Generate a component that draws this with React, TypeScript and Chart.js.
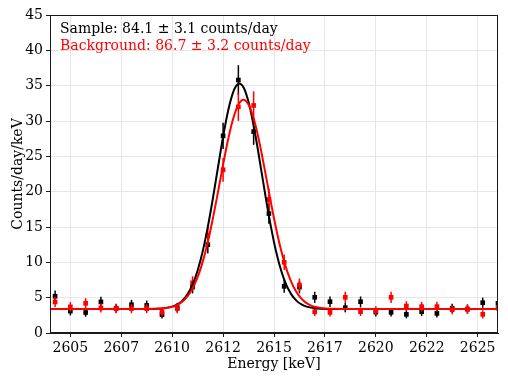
import React, { useEffect, useRef } from 'react';
import { Chart, registerables } from 'chart.js';

Chart.register(...registerables);

// ---- data ----
const binEnergies = [
  2604.25, 2605.0, 2605.75, 2606.5, 2607.25, 2608.0, 2608.75, 2609.5, 2610.25, 2611.0,
  2611.75, 2612.5, 2613.25, 2614.0, 2614.75, 2615.5, 2616.25, 2617.0, 2617.75, 2618.5,
  2619.25, 2620.0, 2620.75, 2621.5, 2622.25, 2623.0, 2623.75, 2624.5, 2625.25, 2626.0,
];
const sampleRates = [
  5.2, 3.1, 2.9, 4.4, 3.5, 4.0, 3.9, 2.6, 3.6, 6.5,
  12.5, 27.9, 35.8, 28.5, 16.9, 6.6, 6.5, 5.05, 4.43, 3.58,
  4.43, 2.95, 2.92, 2.64, 3.02, 2.78, 3.5, 3.4, 4.29, 4.2,
];
const sampleErrors = [
  0.8, 0.62, 0.6, 0.73, 0.65, 0.7, 0.69, 0.56, 0.66, 0.89,
  1.24, 1.85, 2.1, 1.87, 1.44, 0.9, 0.89, 0.79, 0.74, 0.66,
  0.74, 0.6, 0.6, 0.57, 0.61, 0.58, 0.65, 0.65, 0.72, 0.72,
];
const backgroundRates = [
  4.4, 3.7, 4.2, 3.55, 3.45, 3.45, 3.45, 2.95, 3.45, 7.1,
  13.8, 23.1, 32.0, 32.2, 18.9, 10.0, 6.8, 3.0, 2.92, 5.05,
  3.02, 3.15, 5.05, 3.82, 3.73, 3.73, 3.3, 3.35, 2.64, 3.5,
];
const backgroundErrors = [
  0.73, 0.67, 0.72, 0.66, 0.65, 0.65, 0.65, 0.6, 0.65, 0.93,
  1.3, 1.68, 1.98, 1.99, 1.52, 1.1, 0.91, 0.61, 0.6, 0.79,
  0.61, 0.62, 0.79, 0.68, 0.68, 0.68, 0.64, 0.64, 0.57, 0.65,
];

const sampleFitEnergies = [
  2604.0, 2609.0, 2609.5, 2610.0, 2610.25, 2610.5, 2610.75, 2611.0, 2611.25, 2611.5,
  2611.75, 2612.0, 2612.25, 2612.5, 2612.75, 2613.0, 2613.15, 2613.3, 2613.45, 2613.6,
  2613.85, 2614.1, 2614.35, 2614.6, 2614.85, 2615.1, 2615.35, 2615.6, 2615.85, 2616.1,
  2616.35, 2616.6, 2617.1, 2617.6, 2618.5, 2626.0,
];
const sampleFitRates = [
  3.4, 3.41, 3.47, 3.73, 4.04, 4.58, 5.47, 6.84, 8.84, 11.56,
  15.01, 19.07, 23.46, 27.77, 31.49, 34.11, 35.0, 35.3, 35.0, 34.11,
  31.49, 27.77, 23.46, 19.07, 15.01, 11.56, 8.84, 6.84, 5.47, 4.58,
  4.04, 3.73, 3.47, 3.41, 3.4, 3.4,
];
const backgroundFitEnergies = [
  2604.0, 2608.7, 2609.2, 2609.7, 2609.95, 2610.2, 2610.45, 2610.7, 2610.95, 2611.2,
  2611.45, 2611.7, 2611.95, 2612.2, 2612.45, 2612.7, 2612.95, 2613.2, 2613.35, 2613.5,
  2613.65, 2613.8, 2614.05, 2614.3, 2614.55, 2614.8, 2615.05, 2615.3, 2615.55, 2615.8,
  2616.05, 2616.3, 2616.55, 2616.8, 2617.05, 2617.3, 2617.8, 2618.3, 2626.0,
];
const backgroundFitRates = [
  3.4, 3.41, 3.43, 3.54, 3.67, 3.92, 4.33, 5.01, 6.04, 7.55,
  9.61, 12.28, 15.52, 19.2, 23.05, 26.74, 29.85, 32.03, 32.75, 33.0,
  32.75, 32.03, 29.85, 26.74, 23.05, 19.2, 15.52, 12.28, 9.61, 7.55,
  6.04, 5.01, 4.33, 3.92, 3.67, 3.54, 3.43, 3.41, 3.4,
];

const xTickValues = [2605, 2607.5, 2610, 2612.5, 2615, 2617.5, 2620, 2622.5, 2625];
const yTickValues = [0, 5, 10, 15, 20, 25, 30, 35, 40, 45];
const annotationLines = ['Sample: 84.1 ± 3.1 counts/day', 'Background: 86.7 ± 3.2 counts/day'];
const xTitle = 'Energy [keV]';
const yTitle = 'Counts/day/keV';

const FONT = "'DejaVu Serif', serif";
const SAMPLE_COLOR = '#000000';
const BG_COLOR = '#ff0000';

const toPoints = (xs: number[], ys: number[]) => xs.map((x, i) => ({ x, y: ys[i] }));

export default function App() {
  const ref = useRef<HTMLCanvasElement | null>(null);

  useEffect(() => {
    const canvas = ref.current;
    if (!canvas) return;

    const errorBars = {
      id: 'errorBars',
      beforeDatasetDraw(chart: any, args: any) {
        const ds = chart.data.datasets[args.index];
        if (!ds.errors) return;
        const { ctx, chartArea, scales } = chart;
        ctx.save();
        ctx.beginPath();
        ctx.rect(chartArea.left, chartArea.top, chartArea.right - chartArea.left, chartArea.bottom - chartArea.top);
        ctx.clip();
        ctx.strokeStyle = ds.borderColor;
        ctx.lineWidth = 1.5;
        ds.data.forEach((p: any, i: number) => {
          const px = scales.x.getPixelForValue(p.x);
          const y1 = scales.y.getPixelForValue(p.y - ds.errors[i]);
          const y2 = scales.y.getPixelForValue(p.y + ds.errors[i]);
          ctx.beginPath();
          ctx.moveTo(px, y1);
          ctx.lineTo(px, y2);
          ctx.stroke();
        });
        ctx.restore();
      },
    };

    const frameAndText = {
      id: 'frameAndText',
      afterDraw(chart: any) {
        const { ctx, chartArea } = chart;
        ctx.save();
        ctx.strokeStyle = '#1a1a1a';
        ctx.lineWidth = 1;
        ctx.strokeRect(chartArea.left + 0.5, chartArea.top + 0.5, chartArea.right - chartArea.left - 1, chartArea.bottom - chartArea.top - 1);
        ctx.font = `14px ${FONT}`;
        ctx.textBaseline = 'alphabetic';
        ctx.textAlign = 'left';
        ctx.fillStyle = SAMPLE_COLOR;
        ctx.fillText(annotationLines[0], chartArea.left + 10, chartArea.top + 17.5);
        ctx.fillStyle = BG_COLOR;
        ctx.fillText(annotationLines[1], chartArea.left + 10, chartArea.top + 35.2);
        ctx.restore();
      },
    };

    const chart = new Chart(canvas, {
      type: 'line',
      data: {
        datasets: [
          {
            label: 'Sample',
            data: toPoints(binEnergies, sampleRates),
            errors: sampleErrors,
            showLine: false,
            borderColor: SAMPLE_COLOR,
            backgroundColor: SAMPLE_COLOR,
            pointStyle: 'rect',
            pointRadius: 3.3,
            pointBorderWidth: 0,
            clip: 0,
            order: 4,
          } as any,
          {
            label: 'Background',
            data: toPoints(binEnergies, backgroundRates),
            errors: backgroundErrors,
            showLine: false,
            borderColor: BG_COLOR,
            backgroundColor: BG_COLOR,
            pointStyle: 'rect',
            pointRadius: 3.3,
            pointBorderWidth: 0,
            clip: 0,
            order: 3,
          } as any,
          {
            label: 'Sample fit',
            data: toPoints(sampleFitEnergies, sampleFitRates),
            borderColor: SAMPLE_COLOR,
            borderWidth: 2,
            pointRadius: 0,
            cubicInterpolationMode: 'monotone',
            fill: false,
            clip: 0,
            order: 2,
          } as any,
          {
            label: 'Background fit',
            data: toPoints(backgroundFitEnergies, backgroundFitRates),
            borderColor: BG_COLOR,
            borderWidth: 2,
            pointRadius: 0,
            cubicInterpolationMode: 'monotone',
            fill: false,
            clip: 0,
            order: 1,
          } as any,
        ],
      },
      options: {
        responsive: false,
        animation: false,
        events: [],
        layout: { padding: { left: 0, top: 15, right: 10, bottom: 0 } },
        plugins: {
          legend: { display: false },
          tooltip: { enabled: false },
          title: { display: false },
        },
        scales: {
          x: {
            type: 'linear',
            min: 2604,
            max: 2626,
            afterFit: (s: any) => { s.height = 48; },
            afterBuildTicks: (s: any) => { s.ticks = xTickValues.map((v) => ({ value: v })); },
            ticks: {
              color: '#000',
              font: { family: FONT, size: 14 },
              padding: 3,
              maxRotation: 0,
              autoSkip: false,
              callback: (v: any) => String(Math.floor(Number(v))),
            },
            grid: { color: '#e6e6e6', tickColor: '#1a1a1a', tickLength: 4, lineWidth: 1 },
            border: { color: '#1a1a1a' },
            title: {
              display: true,
              text: xTitle,
              color: '#000',
              font: { family: FONT, size: 14 },
              padding: { top: 0, bottom: 8 },
            },
          },
          y: {
            type: 'linear',
            min: 0,
            max: 45,
            afterFit: (s: any) => { s.width = 50; },
            afterBuildTicks: (s: any) => { s.ticks = yTickValues.map((v) => ({ value: v })); },
            ticks: {
              color: '#000',
              font: { family: FONT, size: 14 },
              padding: 3,
              autoSkip: false,
            },
            grid: { color: '#e6e6e6', tickColor: '#1a1a1a', tickLength: 4, lineWidth: 1 },
            border: { color: '#1a1a1a' },
            title: {
              display: true,
              text: yTitle,
              color: '#000',
              font: { family: FONT, size: 14 },
              padding: { top: 10, bottom: 0 },
            },
          },
        },
      } as any,
      plugins: [errorBars, frameAndText],
    });

    return () => chart.destroy();
  }, []);

  return (
    <div style={{ position: 'fixed', left: 0, top: 0, width: 508, height: 381, background: '#fff' }}>
      <canvas ref={ref} width={508} height={381} style={{ display: 'block', width: 508, height: 381 }} />
    </div>
  );
}
